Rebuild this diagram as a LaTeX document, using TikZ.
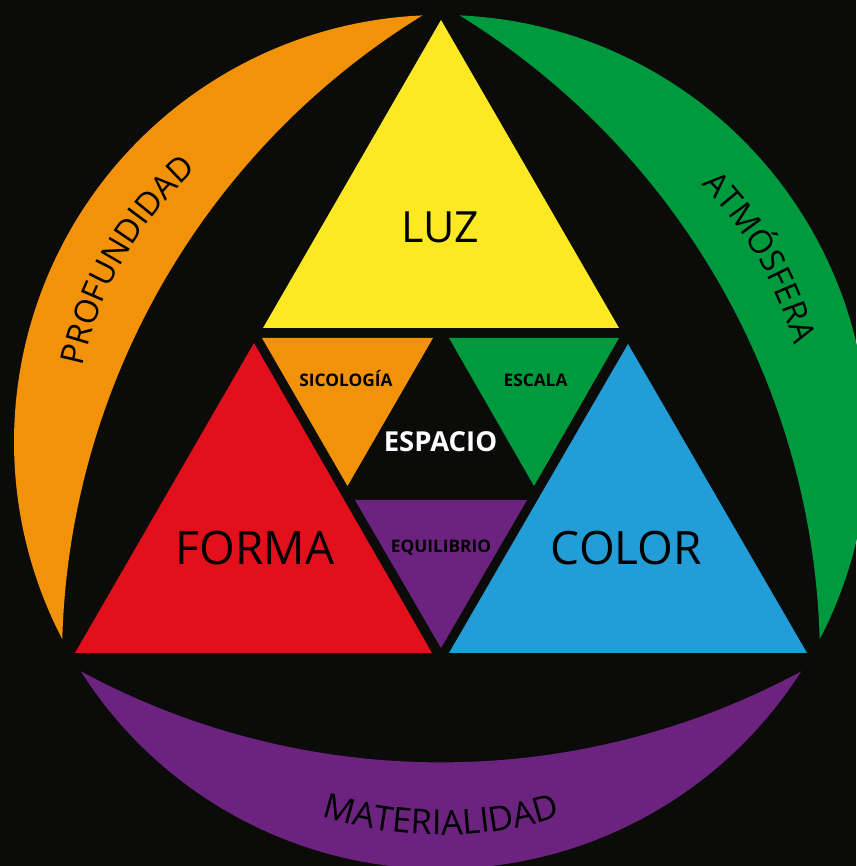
\documentclass[tikz,border=0pt]{standalone}
\usepackage{fontspec}
\setmainfont{Open Sans}
\usetikzlibrary{calc,decorations.text}
\definecolor{bgblack}{HTML}{0B0C0A}
\definecolor{cyellow}{HTML}{FCE924}
\definecolor{corange}{HTML}{F29208}
\definecolor{cgreen}{HTML}{009A3E}
\definecolor{cred}{HTML}{E1101A}
\definecolor{cblue}{HTML}{229DD8}
\definecolor{cpurple}{HTML}{6C2380}
\newcommand{\crescentband}[2]{%
  \fill[#2] ($(O)+(#1-57.5:427pt)$) arc[start angle=#1-57.5, end angle=#1+57.5, radius=427pt]
    arc[start angle=#1+28.36, end angle=#1-28.36, radius=758pt] -- cycle;}
\tikzset{
  biglabel/.style={font=\fontsize{46}{46}\selectfont, text=black, anchor=base, inner sep=0pt},
  smalllabel/.style={font=\bfseries\fontsize{17.3}{17.3}\selectfont, text=black, anchor=base, inner sep=0pt},
  centerlabel/.style={font=\bfseries\fontsize{27.5}{27.5}\selectfont, text=white, anchor=base, inner sep=0pt},
  curvedlabel/.style 2 args={decorate, decoration={text along path, text align=center, text={|\fontsize{#1}{#1}\selectfont|#2}}}
}
\begin{document}
\begin{tikzpicture}[x=1pt,y=1pt]
\fill[bgblack] (0,0) rectangle (856,866);
\useasboundingbox (0,0) rectangle (856,866);
\coordinate (O) at (441,424);
% crescents
\crescentband{150}{corange}
\crescentband{30}{cgreen}
\crescentband{270}{cpurple}
% big triangles
\fill[cyellow] (263,538) -- (619,538) -- (441,846) -- cycle;
\fill[cred] (75,213) -- (432,213) -- (254,523) -- cycle;
\fill[cblue] (449,213) -- (807,213) -- (628,522) -- cycle;
% small triangles
\fill[corange] (262,528) -- (433,528) -- (347.5,380) -- cycle;
\fill[cgreen] (449,528) -- (619,528) -- (534,380) -- cycle;
\fill[cpurple] (355,366) -- (527,366) -- (441,218) -- cycle;
% labels
\node[biglabel, font=\fontsize{43}{43}\selectfont] (luz) at (440.5,623) {LUZ};
\node[biglabel] (forma) at (255,301) {FORMA};
\node[biglabel] (color) at (626.5,301.5) {COLOR};
\node[smalllabel] (sicologia) at (346,479) {SICOLOGÍA};
\node[smalllabel] (escala) at (535.5,479) {ESCALA};
\node[smalllabel] (equilibrio) at (441,313) {EQUILIBRIO};
\node[centerlabel] (espacio) at (440.5,414) {ESPACIO};
% curved labels
\path[curvedlabel={32.5}{PROFUNDIDAD}] ($(O)+(178:366pt)$) arc[start angle=178, end angle=122, radius=366pt];
\path[curvedlabel={32.5}{ATMÓSFERA}] ($(O)+(58:366pt)$) arc[start angle=58, end angle=2, radius=366pt];
\path[curvedlabel={34.5}{MATERIALIDAD}] ($(O)+(242:393pt)$) arc[start angle=242, end angle=298, radius=393pt];
\end{tikzpicture}
\end{document}
